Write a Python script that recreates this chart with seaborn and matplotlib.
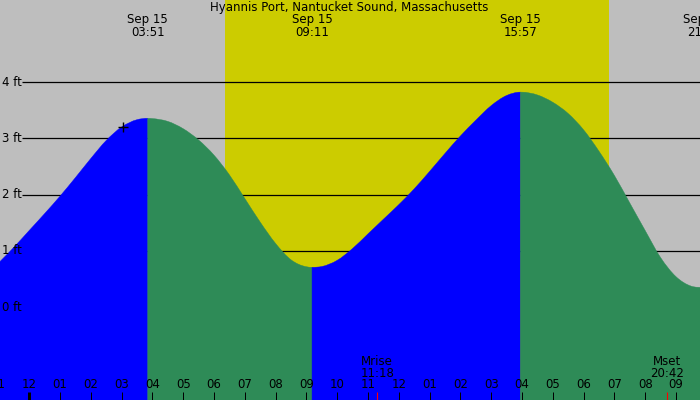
import matplotlib
matplotlib.use("Agg")
import matplotlib.pyplot as plt
import matplotlib.transforms as mtransforms
from matplotlib.path import Path
from matplotlib.patches import PathPatch
import numpy as np
import pandas as pd
import seaborn as sns

# ---------------- data ----------------
title = "Hyannis Port, Nantucket Sound, Massachusetts"
date_label = "Sep 15"

# hours after midnight of Sep 15 (negative = previous evening)
tide_hours = [-1.0, -0.5, 0.0, 0.5, 1.0, 1.5, 2.0, 2.5, 3.0, 3.5, 3.85,
              4.0, 4.5, 5.0, 5.5, 6.0, 6.5, 7.0, 7.5, 8.0, 8.5, 9.0, 9.1833,
              9.5, 10.0, 10.5, 11.0, 11.5, 12.0, 12.5, 13.0, 13.5, 14.0, 14.5,
              15.0, 15.5, 15.95,
              16.0, 16.5, 17.0, 17.5, 18.0, 18.5, 19.0, 19.5, 20.0, 20.5,
              21.0, 21.5, 21.9, 22.0]
tide_feet = [0.78, 1.06, 1.36, 1.66, 1.97, 2.30, 2.64, 2.96, 3.20, 3.33, 3.355,
             3.35, 3.30, 3.17, 2.97, 2.70, 2.35, 1.93, 1.51, 1.13, 0.84, 0.716, 0.706,
             0.72, 0.83, 1.04, 1.30, 1.56, 1.82, 2.10, 2.41, 2.73, 3.04, 3.32,
             3.58, 3.76, 3.82,
             3.82, 3.77, 3.64, 3.44, 3.15, 2.77, 2.34, 1.85, 1.36, 0.88,
             0.54, 0.37, 0.35, 0.35]

event_times = ["03:51", "09:11", "15:57", "21:54"]
event_kinds = ["H", "L", "H", "L"]

sunrise = "06:22"
sunset = "18:49"
moonrise = "11:18"
moonset = "20:42"

now_hour = 3.05
now_feet = 3.205

feet_levels = [0, 1, 2, 3, 4]
feet_labels = ["0 ft", "1 ft", "2 ft", "3 ft", "4 ft"]

hour_ticks = list(range(-1, 22))
hour_labels = [f"{(h % 12) or 12:02d}" for h in hour_ticks]

# ---------------- helpers ----------------
def to_h(s):
    hh, mm = s.split(":")
    return int(hh) + int(mm) / 60.0

X_MIN, X_MAX = -0.948, 21.78
Y_MIN, Y_MAX = -1.653, 5.458

C_BG = "#BEBEBE"
C_DAY = "#CCCC00"
C_RISE = "#0000FF"
C_FALL = "#2E8B57"
FS = 8.5

t = np.asarray(tide_hours, dtype=float)
h = np.asarray(tide_feet, dtype=float)

# indices of the tide events inside the series
ev_idx = [int(np.argmin(np.abs(t - to_h(s)))) for s in event_times]

# tangent slopes for smooth (Hermite / Bezier) rendering
slope = np.gradient(h, t)
for i in ev_idx:
    slope[i] = 0.0

bounds = [0] + ev_idx + [len(t) - 1]
segments = []
for k in range(len(bounds) - 1):
    i0, i1 = bounds[k], bounds[k + 1]
    if i1 <= i0:
        continue
    if k < len(event_kinds):
        phase = "rise" if event_kinds[k] == "H" else "fall"
    else:
        phase = "rise" if event_kinds[-1] == "L" else "fall"
    segments.append((i0, i1, phase))


def seg_path(i0, i1, base):
    verts = [(t[i0], base), (t[i0], h[i0])]
    codes = [Path.MOVETO, Path.LINETO]
    for i in range(i0, i1):
        dt = t[i + 1] - t[i]
        c1 = (t[i] + dt / 3, h[i] + slope[i] * dt / 3)
        c2 = (t[i + 1] - dt / 3, h[i + 1] - slope[i + 1] * dt / 3)
        verts += [c1, c2, (t[i + 1], h[i + 1])]
        codes += [Path.CURVE4] * 3
    verts += [(t[i1], base), (t[i0], base)]
    codes += [Path.LINETO, Path.CLOSEPOLY]
    return Path(verts, codes)

# ---------------- figure ----------------
sns.set_theme(style="white")
plt.rcParams["font.family"] = ["DejaVu Sans"]

fig = plt.figure(figsize=(7, 4), dpi=100, facecolor=C_BG)
ax = fig.add_axes([0, 0, 1, 1])
ax.set_facecolor(C_BG)

# daylight
ax.axvspan(to_h(sunrise), to_h(sunset), color=C_DAY, lw=0, zorder=0)

# grid lines (behind water)
grid_start = X_MIN + 22 / 30.8
ax.hlines(feet_levels[1:], grid_start, X_MAX + 1, color="black", lw=0.9, zorder=1)

# water
for i0, i1, phase in segments:
    col = C_RISE if phase == "rise" else C_FALL
    ax.add_patch(PathPatch(seg_path(i0, i1, Y_MIN - 1), facecolor=col,
                           edgecolor=col, lw=0.3, zorder=2))

# current-time marker
sns.scatterplot(x=[now_hour], y=[now_feet], marker="+", color="black", s=60,
                linewidth=1, ax=ax, zorder=5, legend=False)

ax.set_xlim(X_MIN, X_MAX)
ax.set_ylim(Y_MIN, Y_MAX)
ax.axis("off")

# y labels
ytr = mtransforms.blended_transform_factory(ax.transAxes, ax.transData)
for lv, lb in zip(feet_levels, feet_labels):
    ax.text(2 / 700, lv, lb, transform=ytr, ha="left", va="center",
            fontsize=FS, color="black", zorder=6)

# x ticks and labels
xtr = mtransforms.blended_transform_factory(ax.transData, ax.transAxes)
tick_len = 8 / 400
for hr, lb in zip(hour_ticks, hour_labels):
    lw = 3 if hr == 0 else 1
    ax.plot([hr, hr], [0, tick_len], transform=xtr, color="black", lw=lw * 0.72,
            solid_capstyle="butt", zorder=6, clip_on=False)
    ax.text(hr, 1 - 385 / 400, lb, transform=xtr, ha="center", va="center",
            fontsize=FS, color="black", zorder=6, clip_on=False)

# moon rise / set
for name, tm in [("Mrise", moonrise), ("Mset", moonset)]:
    th = to_h(tm)
    ax.plot([th, th], [0, tick_len], transform=xtr, color="red", lw=0.8,
            solid_capstyle="butt", zorder=6)
    ax.text(th, 1 - 361.7 / 400, name, transform=xtr, ha="center", va="center",
            fontsize=FS, color="black", zorder=6)
    ax.text(th, 1 - 373.3 / 400, tm, transform=xtr, ha="center", va="center",
            fontsize=FS, color="black", zorder=6)

# tide event labels on top
for tm in event_times:
    th = to_h(tm)
    ax.text(th, 1 - 20 / 400, date_label, transform=xtr, ha="center", va="center",
            fontsize=FS, color="black", zorder=6)
    ax.text(th, 1 - 32 / 400, tm, transform=xtr, ha="center", va="center",
            fontsize=FS, color="black", zorder=6)

# title
fig.text(349.5 / 700, 1 - 8 / 400, title, ha="center", va="center",
         fontsize=FS, color="black")

fig.savefig("out.png", dpi=100, facecolor=C_BG)
